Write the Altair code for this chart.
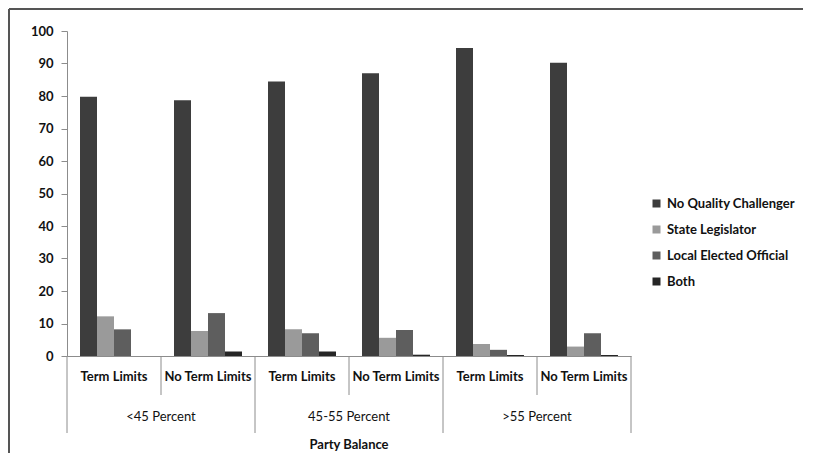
import altair as alt
import pandas as pd

groups = ["<45 Percent", "45-55 Percent", ">55 Percent"]
limits = ["Term Limits", "No Term Limits"]
series = ["No Quality Challenger", "State Legislator", "Local Elected Official", "Both"]
colors = ["#3d3d3d", "#9a9a9a", "#5e5e5e", "#262626"]
no_quality = [79.8, 78.7, 84.5, 87.0, 94.8, 90.2]
state_leg = [12.2, 7.7, 8.2, 5.6, 3.7, 2.9]
local_off = [8.2, 13.2, 7.0, 8.0, 1.9, 7.0]
both = [0.0, 1.4, 1.4, 0.4, 0.3, 0.3]
y_ticks = list(range(0, 101, 10))
x_title = "Party Balance"

keys = [f"{g}|{l}" for g in groups for l in limits]
rows = []
for s, vals in zip(series, [no_quality, state_leg, local_off, both]):
    for k, v in zip(keys, vals):
        rows.append({"key": k, "series": s, "value": v})
df = pd.DataFrame(rows)

tl_keys = pd.DataFrame({"key": [f"{g}|{limits[0]}" for g in groups]})
ntl_keys = pd.DataFrame({"key": [f"{g}|{limits[1]}" for g in groups], "group": groups})
last_key = pd.DataFrame({"key": [keys[-1]]})
mid_key = pd.DataFrame({"key": [f"{groups[1]}|{limits[1]}"], "t": [x_title]})

W, H = 564, 325
FONT = "Lato"
GRAY = "#8c8c8c"
FS = 13

xscale = alt.Scale(domain=keys, paddingInner=0, paddingOuter=0)

bars = alt.Chart(df).mark_bar().encode(
    x=alt.X("key:N", scale=xscale, sort=keys,
            axis=alt.Axis(title=None, labelExpr="split(datum.label, '|')[1]",
                          ticks=False, labelPadding=14, labelAngle=0, grid=False,
                          domainColor=GRAY, labelFont=FONT, labelFontSize=FS,
                          labelFontWeight="bold", labelColor="#111")),
    xOffset=alt.XOffset("series:N", sort=series,
                        scale=alt.Scale(domain=series, paddingInner=0, paddingOuter=0.765)),
    y=alt.Y("value:Q", scale=alt.Scale(domain=[0, 100]),
            axis=alt.Axis(title=None, values=y_ticks, grid=False, tickSize=6,
                          labelPadding=8, domainColor=GRAY, tickColor=GRAY,
                          labelFont=FONT, labelFontSize=FS, labelFontWeight="bold",
                          labelColor="#111")),
    color=alt.Color("series:N", sort=series,
                    scale=alt.Scale(domain=series, range=colors),
                    legend=alt.Legend(title=None, orient="none", legendX=583, legendY=166,
                                      symbolType="square", symbolSize=64,
                                      symbolStrokeWidth=0, labelOffset=4,
                                      labelFont=FONT, labelFontSize=FS,
                                      labelFontWeight="bold", labelColor="#111",
                                      rowPadding=12)),
)

long_left = alt.Chart(tl_keys).mark_rule(color=GRAY, strokeWidth=1).encode(
    x=alt.X("key:N", scale=xscale, bandPosition=0),
    y=alt.value(H), y2=alt.value(H + 77))
long_right = alt.Chart(last_key).mark_rule(color=GRAY, strokeWidth=1).encode(
    x=alt.X("key:N", scale=xscale, bandPosition=1),
    y=alt.value(H), y2=alt.value(H + 77))
short = alt.Chart(ntl_keys).mark_rule(color=GRAY, strokeWidth=1).encode(
    x=alt.X("key:N", scale=xscale, bandPosition=0),
    y=alt.value(H), y2=alt.value(H + 39))

group_labels = alt.Chart(ntl_keys).mark_text(
    font=FONT, fontSize=FS, color="#111", baseline="middle").encode(
    x=alt.X("key:N", scale=xscale, bandPosition=0),
    y=alt.value(H + 61), text="group:N")

title_text = alt.Chart(mid_key).mark_text(
    font=FONT, fontSize=FS, fontWeight="bold", color="#111", baseline="middle").encode(
    x=alt.X("key:N", scale=xscale, bandPosition=0),
    y=alt.value(H + 89), text="t:N")

one = pd.DataFrame({"a": [0]})
frame_top = alt.Chart(one).mark_rule(color="#555555", strokeWidth=2).encode(
    x=alt.value(-58), x2=alt.value(W + 172), y=alt.value(-22))
frame_left = alt.Chart(one).mark_rule(color="#555555", strokeWidth=2).encode(
    x=alt.value(-58), y=alt.value(-22), y2=alt.value(H + 97))

chart = alt.layer(frame_top, frame_left, bars, long_left, long_right, short,
                  group_labels, title_text).properties(
    width=W, height=H,
    background="white",
    autosize=alt.AutoSizeParams(type="none"),
    padding={"left": 59, "top": 23, "right": 178, "bottom": 98},
).configure_view(stroke="transparent", strokeWidth=0)

chart.save("out.html", embed_options={"renderer": "svg", "actions": False})
